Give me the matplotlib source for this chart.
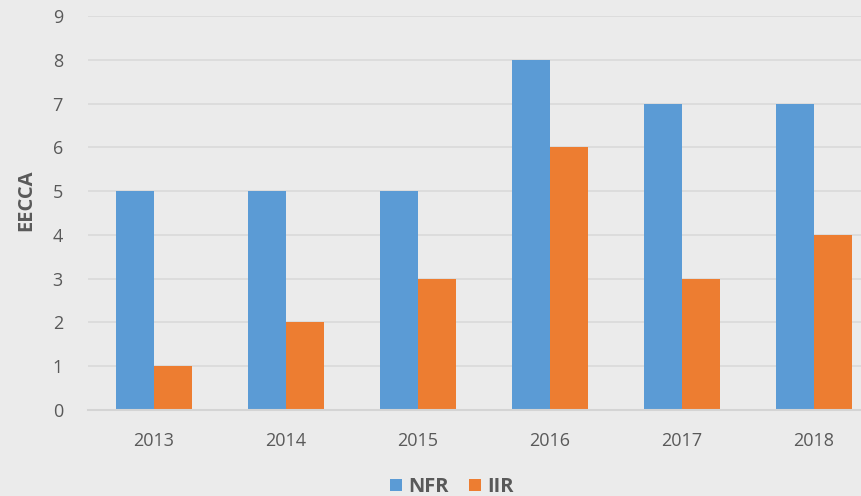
import numpy as np
import matplotlib
matplotlib.use("Agg")
import matplotlib.pyplot as plt

years = ["2013", "2014", "2015", "2016", "2017", "2018"]
nfr = [5, 5, 5, 8, 7, 7]
iir = [1, 2, 3, 6, 3, 4]

plt.rcParams['font.family'] = ['Open Sans', 'DejaVu Sans']

bg = "#EBEBEB"
txt = "#595959"
fig = plt.figure(figsize=(8.62, 4.96), dpi=100, facecolor=bg)
ax = fig.add_axes([88 / 862, 86 / 496, 792 / 862, 394 / 496], facecolor=bg)

x = np.arange(len(years))
w = 0.288
ax.bar(x - w / 2, nfr, w, color="#5B9BD5", label="NFR", zorder=3)
ax.bar(x + w / 2, iir, w, color="#ED7D31", label="IIR", zorder=3)

ax.set_xlim(-0.5, len(years) - 0.5)
ax.set_ylim(0, 9)
ax.set_yticks(range(10))
ax.set_xticks(x)
ax.set_xticklabels(years)
ax.yaxis.grid(True, color="#D9D9D9", linewidth=1.2, zorder=0)
for s in ["top", "right", "left"]:
    ax.spines[s].set_visible(False)
ax.spines["bottom"].set_color("#D4D4D4")
ax.spines["bottom"].set_linewidth(1.5)
ax.spines["bottom"].set_zorder(4)
ax.tick_params(axis="both", length=0, labelsize=13, colors=txt)
ax.tick_params(axis="x", pad=16)
ax.tick_params(axis="y", pad=18)

ax.set_ylabel("EECCA", fontsize=14.5, fontweight="bold", color=txt)
ax.yaxis.set_label_coords(-0.078, 0.533)
ax.yaxis.label.set_va("center")

fig.legend(loc="center", bbox_to_anchor=(452 / 862, 9 / 496), ncol=2, frameon=False,
           prop={"size": 14.5, "weight": "bold"}, labelcolor=txt,
           handlelength=0.6, handleheight=0.6, handletextpad=0.3, columnspacing=1.0)

fig.savefig("out.png", dpi=100, facecolor=bg)
